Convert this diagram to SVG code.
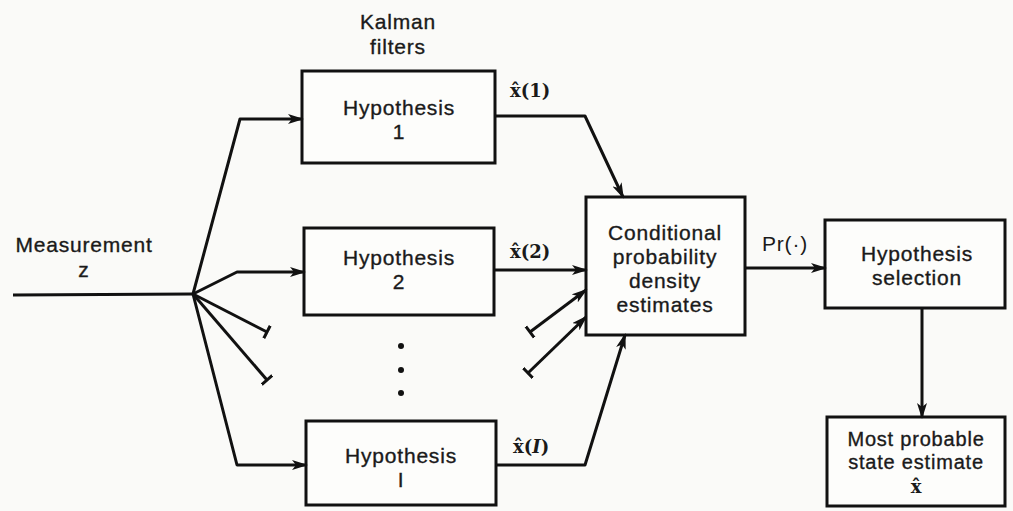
<svg xmlns="http://www.w3.org/2000/svg" width="1013" height="511" viewBox="0 0 1013 511">
<style>
.box{fill:#fdfdfb;stroke:#111;stroke-width:3}
.ln{fill:none;stroke:#111;stroke-width:3;stroke-linejoin:round}
.t{font-family:"Liberation Sans",Arial,sans-serif;font-size:21px;letter-spacing:0.8px;fill:#1a1a1a;text-anchor:middle;stroke:#1a1a1a;stroke-width:0.35}
.s{font-size:20px}
.m{font-family:"DejaVu Serif","Liberation Serif",serif;font-size:18px;font-weight:bold;fill:#1a1a1a}
</style>
<defs>
<marker id="arr" markerUnits="userSpaceOnUse" markerWidth="16" markerHeight="10" refX="14" refY="5" orient="auto">
<path d="M0,0 L16,5 L0,10 L4,5 z" fill="#111"/>
</marker>
<marker id="tick" markerUnits="userSpaceOnUse" markerWidth="4" markerHeight="14" refX="2" refY="7" orient="auto">
<path d="M2,0 L2,14" stroke="#111" stroke-width="3"/>
</marker>
</defs>
<rect width="1013" height="511" fill="#fafaf8"/>

<g id="labels">
<text class="t" x="398" y="29">Kalman</text>
<text class="t" x="398" y="54">filters</text>
<text class="t" x="84" y="252">Measurement</text>
<text class="t" x="84" y="277">z</text>
</g>

<g id="hyp1">
<rect class="box" x="302" y="71" width="193" height="92"/>
<text class="t" x="399" y="115">Hypothesis</text>
<text class="t" x="399" y="139">1</text>
</g>
<g id="hyp2">
<rect class="box" x="304" y="228" width="190" height="87"/>
<text class="t" x="399" y="265">Hypothesis</text>
<text class="t" x="399" y="289">2</text>
</g>
<g id="dots">
<circle cx="401" cy="346" r="3" fill="#111"/>
<circle cx="401" cy="370" r="3" fill="#111"/>
<circle cx="401" cy="393" r="3" fill="#111"/>
</g>
<g id="hypI">
<rect class="box" x="306" y="421" width="190" height="84"/>
<text class="t" x="401" y="463">Hypothesis</text>
<text class="t" x="401" y="487">I</text>
</g>
<g id="cond">
<rect class="box" x="586" y="197" width="159" height="138"/>
<text class="t" x="665" y="240">Conditional</text>
<text class="t" x="665" y="264">probability</text>
<text class="t" x="665" y="288">density</text>
<text class="t" x="665" y="312">estimates</text>
</g>
<g id="select">
<rect class="box" x="825" y="220" width="180" height="88"/>
<text class="t" x="917" y="261">Hypothesis</text>
<text class="t" x="917" y="285">selection</text>
</g>
<g id="most">
<rect class="box" x="827" y="417" width="178" height="89"/>
<text class="t s" x="916" y="446">Most probable</text>
<text class="t s" x="916" y="469">state estimate</text>
<text class="m" x="916" y="493" text-anchor="middle">x̂</text>
</g>

<g id="connectors">
<path class="ln" d="M13,295 L193,294"/>
<path class="ln" d="M193,294 L240,119 L302,119" marker-end="url(#arr)"/>
<path class="ln" d="M193,294 L237,272 L304,272" marker-end="url(#arr)"/>
<path class="ln" d="M193,294 L237,465 L306,465" marker-end="url(#arr)"/>
<path class="ln" d="M193,294 L267,332" marker-end="url(#tick)"/>
<path class="ln" d="M193,294 L267,380" marker-end="url(#tick)"/>
<path class="ln" d="M495,116 L585,116 L623,197" marker-end="url(#arr)"/>
<path class="ln" d="M494,270 L586,270" marker-end="url(#arr)"/>
<path class="ln" d="M496,465 L585,465 L625,335" marker-end="url(#arr)"/>
<path class="ln" d="M530,332 L586,290" marker-start="url(#tick)" marker-end="url(#arr)"/>
<path class="ln" d="M528,373 L586,317" marker-start="url(#tick)" marker-end="url(#arr)"/>
<path class="ln" d="M745,268 L825,268" marker-end="url(#arr)"/>
<path class="ln" d="M922,308 L922,417" marker-end="url(#arr)"/>
<text class="m" x="510" y="97">x̂(1)</text>
<text class="m" x="510" y="258">x̂(2)</text>
<text class="m" x="513" y="453">x̂(<tspan font-style="italic">I</tspan>)</text>
<text class="t" x="785" y="251" style="stroke-width:0">Pr(·)</text>
</g>
</svg>
